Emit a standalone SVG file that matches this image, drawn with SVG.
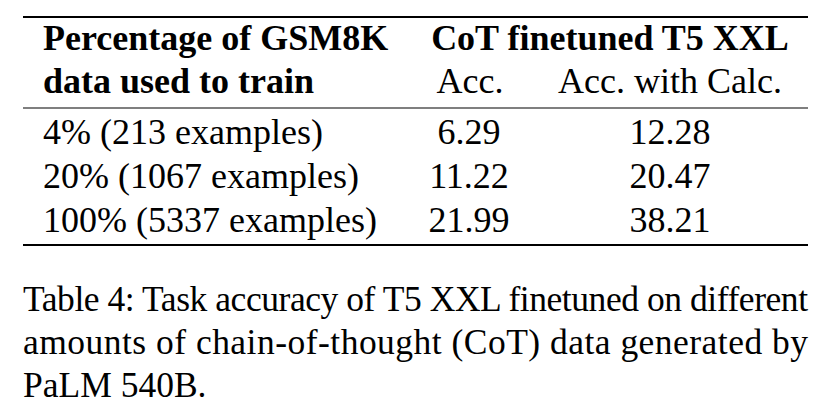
<svg xmlns="http://www.w3.org/2000/svg" width="823" height="417" viewBox="0 0 823 417">
<style>
text{font-family:"Liberation Serif","Times New Roman",serif;font-size:36px;fill:#000}
.b{font-weight:bold}
.m{text-anchor:middle}
.cap{font-size:35.5px}
line{stroke:#000}
</style>
<rect width="823" height="417" fill="#fff"/>
<g id="rules">
<line x1="23" y1="17" x2="808" y2="17" stroke-width="1.8"/>
<line x1="23" y1="108" x2="808" y2="108" stroke-width="1.1"/>
<line x1="23" y1="245" x2="808" y2="245" stroke-width="1.8"/>
</g>
<g id="header">
<text class="b" x="43" y="50">Percentage of GSM8K</text>
<text class="b" x="43" y="93">data used to train</text>
<text class="b m" x="610" y="50">CoT finetuned T5 XXL</text>
<text class="m" x="470" y="93">Acc.</text>
<text class="m" x="670" y="93">Acc. with Calc.</text>
</g>
<g id="rows">
<text x="43" y="144">4% (213 examples)</text>
<text class="m" x="469" y="144">6.29</text>
<text class="m" x="670" y="144">12.28</text>
<text x="43" y="188">20% (1067 examples)</text>
<text class="m" x="469" y="188">11.22</text>
<text class="m" x="670" y="188">20.47</text>
<text x="43" y="232">100% (5337 examples)</text>
<text class="m" x="469" y="232">21.99</text>
<text class="m" x="670" y="232">38.21</text>
</g>
<g id="caption">
<text class="cap" x="23" y="311" textLength="785" lengthAdjust="spacing">Table 4: Task accuracy of T5 XXL finetuned on different</text>
<text class="cap" x="23" y="354" textLength="785" lengthAdjust="spacing">amounts of chain-of-thought (CoT) data generated by</text>
<text class="cap" x="23" y="397">PaLM 540B.</text>
</g>
</svg>
